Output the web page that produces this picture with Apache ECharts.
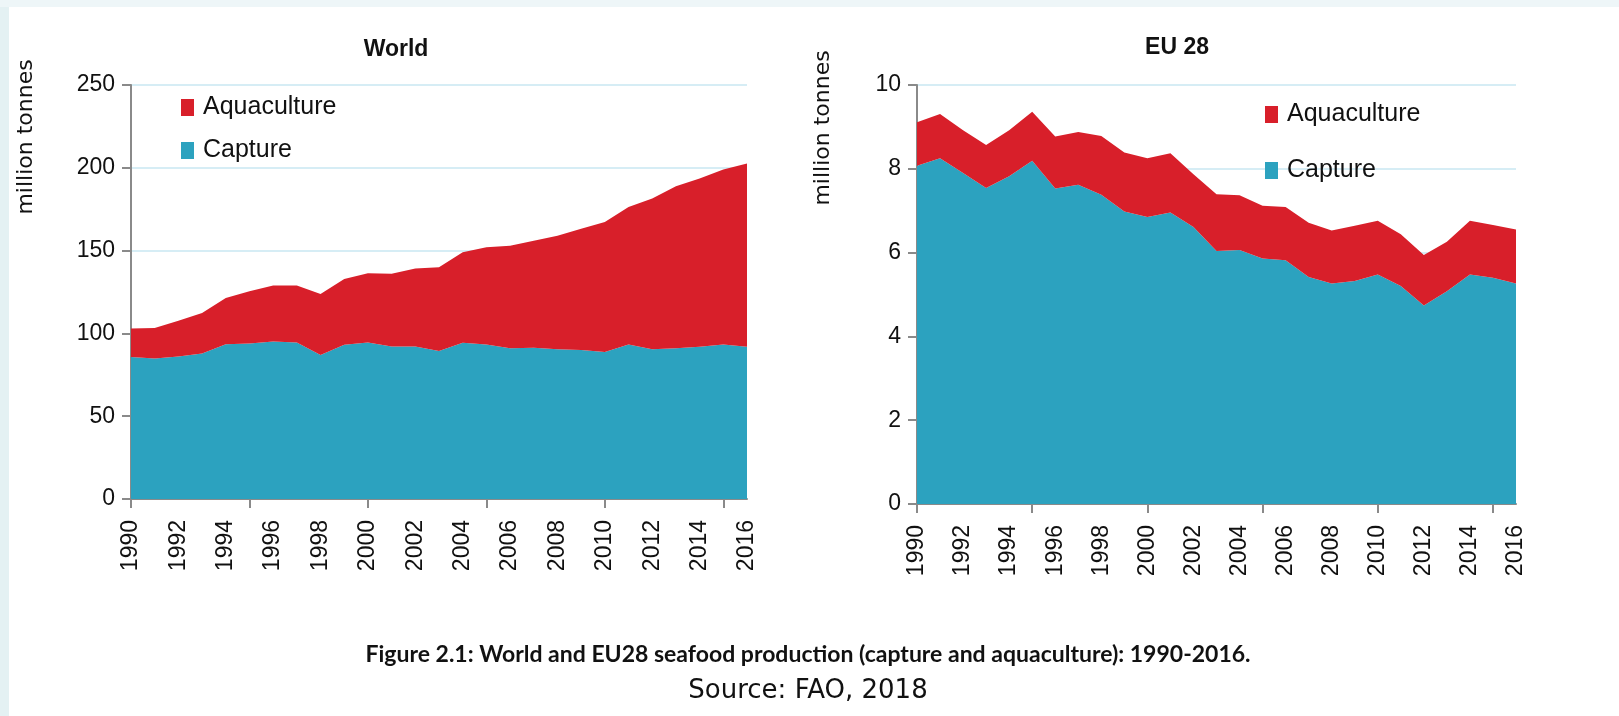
<!DOCTYPE html>
<html>
<head>
<meta charset="utf-8">
<script src="https://cdn.jsdelivr.net/npm/echarts@6/dist/echarts.min.js"></script>
<style>
    html, body { margin: 0; padding: 0; }
    body { width: 1619px; height: 716px; background: #e4f1f3; position: relative; overflow: hidden; }
    #topband { position: absolute; left: 0; top: 0; width: 1619px; height: 7px; background: #eef6f8; }
    #panel { position: absolute; left: 9px; top: 7px; width: 1610px; height: 709px; background: #fff; }
    #chart { position: absolute; left: 0; top: 0; width: 1619px; height: 716px; }
</style>
</head>
<body>
<div id="topband"></div>
<div id="panel"></div>
<div id="chart"></div>
<script>
    // 年份
    var years = ['1990','1991','1992','1993','1994','1995','1996','1997','1998','1999','2000','2001','2002','2003',
        '2004','2005','2006','2007','2008','2009','2010','2011','2012','2013','2014','2015','2016'];

    // World, million tonnes
    var worldCapture = [85.8, 84.8, 86.0, 87.8, 93.5, 93.9, 95.1, 94.5, 87.0, 93.1, 94.5, 92.1, 92.1, 89.4,
        94.3, 93.3, 91.0, 91.3, 90.4, 90.0, 88.8, 93.3, 90.4, 91.0, 91.9, 93.3, 91.9];
    var worldAqua = [17.2, 18.4, 21.6, 24.5, 27.9, 31.5, 33.9, 34.4, 36.8, 39.8, 41.8, 43.9, 47.1, 50.6,
        54.7, 58.7, 62.0, 64.7, 68.6, 73.2, 78.4, 83.0, 91.0, 97.8, 101.6, 105.6, 110.7];

    // EU 28, million tonnes
    var euCapture = [8.07, 8.25, 7.90, 7.54, 7.82, 8.19, 7.53, 7.62, 7.38, 6.98, 6.85, 6.96, 6.61, 6.04,
        6.06, 5.86, 5.82, 5.42, 5.26, 5.32, 5.48, 5.20, 4.74, 5.08, 5.48, 5.40, 5.26];
    var euAqua = [1.04, 1.06, 1.02, 1.03, 1.10, 1.17, 1.24, 1.26, 1.40, 1.41, 1.40, 1.41, 1.26, 1.35,
        1.31, 1.26, 1.27, 1.29, 1.27, 1.32, 1.28, 1.24, 1.20, 1.18, 1.28, 1.26, 1.29];

    var worldTicks = { min: 0, max: 250, interval: 50 };
    var euTicks = { min: 0, max: 10, interval: 2 };

    var RED = '#d81f2a';
    var TEAL = '#2ca2bf';
    var calibri = 'Liberation Sans';

    function xAxisOf(idx) {
        return {
            type: 'category',
            gridIndex: idx,
            data: years,
            boundaryGap: false,
            axisLine: { lineStyle: { color: '#8a8a8a', width: 2 } },
            axisTick: { show: true, interval: 4, length: 9, lineStyle: { color: '#8a8a8a', width: 2 } },
            axisLabel: {
                interval: 1,
                rotate: 90,
                margin: 21,
                color: '#111',
                fontFamily: calibri,
                fontSize: 23
            },
            splitLine: { show: false }
        };
    }

    function yAxisOf(idx, t) {
        return {
            type: 'value',
            gridIndex: idx,
            min: t.min,
            max: t.max,
            interval: t.interval,
            axisLine: { show: true, lineStyle: { color: '#8a8a8a', width: 2 } },
            axisTick: { show: true, length: 9, lineStyle: { color: '#8a8a8a', width: 2 } },
            axisLabel: { margin: 16, color: '#111', fontFamily: calibri, fontSize: 23 },
            splitLine: { show: true, lineStyle: { color: '#d6edf5', width: 2 } }
        };
    }

    function areaSeries(name, data, idx, stack, color) {
        return {
            name: name,
            type: 'line',
            xAxisIndex: idx,
            yAxisIndex: idx,
            stack: stack,
            data: data,
            symbol: 'none',
            lineStyle: { width: 0 },
            areaStyle: { color: color, opacity: 1 },
            itemStyle: { color: color },
            silent: true
        };
    }

    function legendOf(left, top, gap) {
        return {
            data: ['Aquaculture', 'Capture'],
            orient: 'vertical',
            left: left,
            top: top,
            itemGap: gap,
            itemWidth: 13,
            itemHeight: 17,
            icon: 'rect',
            selectedMode: false,
            textStyle: { fontFamily: calibri, fontSize: 25, color: '#111', padding: [0, 0, 0, 4] }
        };
    }

    function label(text, x, y, font, rot) {
        return {
            type: 'text',
            x: x,
            y: y,
            rotation: rot || 0,
            style: { text: text, font: font, fill: '#111', align: 'center', verticalAlign: 'middle' }
        };
    }

    var myChart = echarts.init(document.getElementById('chart'));
    var option = {
        animation: false,
        grid: [
            { left: 131, top: 85, width: 616, height: 414 },
            { left: 917, top: 85, width: 599, height: 419 }
        ],
        xAxis: [xAxisOf(0), xAxisOf(1)],
        yAxis: [yAxisOf(0, worldTicks), yAxisOf(1, euTicks)],
        legend: [legendOf(176, 90, 18), legendOf(1260, 97, 31)],
        series: [
            areaSeries('Capture', worldCapture, 0, 'w', TEAL),
            areaSeries('Aquaculture', worldAqua, 0, 'w', RED),
            areaSeries('Capture', euCapture, 1, 'e', TEAL),
            areaSeries('Aquaculture', euAqua, 1, 'e', RED)
        ],
        graphic: [
            label('World', 396, 50, 'bold 23px "Liberation Sans"'),
            label('EU 28', 1177, 48, 'bold 23px "Liberation Sans"'),
            label('million tonnes', 26, 137, '22px "DejaVu Sans"', Math.PI / 2),
            label('million tonnes', 823, 128, '22px "DejaVu Sans"', Math.PI / 2),
            label('Figure 2.1: World and EU28 seafood production (capture and aquaculture): 1990-2016.', 808, 655, 'bold 23px Lato'),
            label('Source: FAO, 2018', 808, 691, '26px "DejaVu Sans"')
        ]
    };
    myChart.setOption(option);
</script>
</body>
</html>
